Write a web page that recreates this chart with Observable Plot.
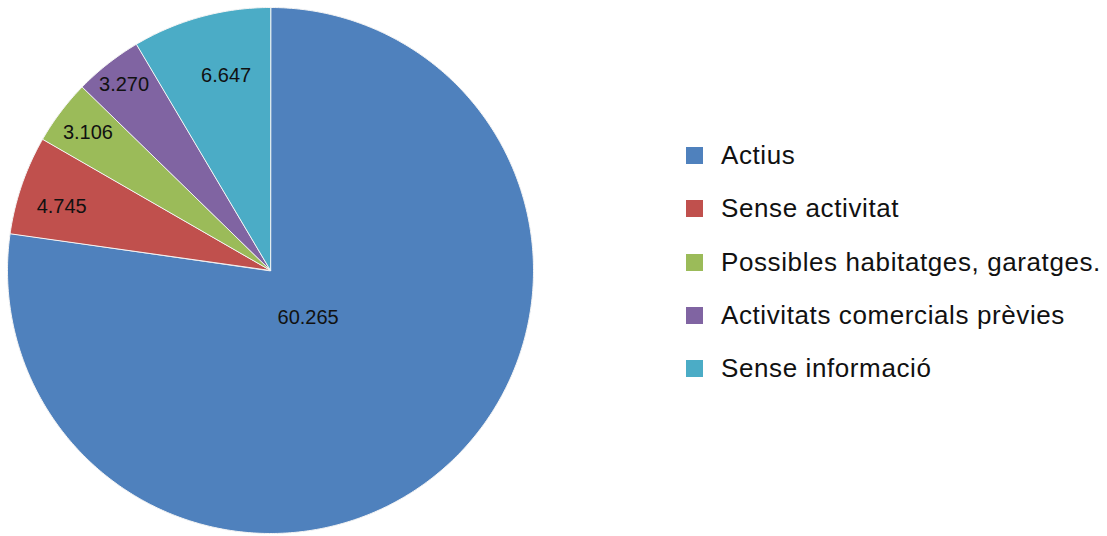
<!DOCTYPE html>
<html><head><meta charset="utf-8">
<script src="https://cdn.jsdelivr.net/npm/d3@7"></script>
<script src="https://cdn.jsdelivr.net/npm/@observablehq/plot@0.6"></script>
<style>
html,body{margin:0;padding:0;background:#fff;}
#wrap{position:relative;width:1107px;height:536px;}
#legend{position:absolute;left:686px;top:129px;font-family:"Liberation Sans",Arial,sans-serif;font-size:26px;letter-spacing:0.6px;color:#111;}
.item{display:flex;align-items:center;height:53.3px;}
.sw{width:17px;height:17px;margin-right:18px;flex:none;}
</style></head>
<body><div id="wrap"><div id="chart"></div><div id="legend"></div></div>
<script>
const categories = ["Actius","Sense activitat","Possibles habitatges, garatges.","Activitats comercials prèvies","Sense informació"];
const values = [60265, 4745, 3106, 3270, 6647];
const labels = ["60.265","4.745","3.106","3.270","6.647"];
const colors = ["#4F81BD","#C0504D","#9BBB59","#8064A2","#4BACC6"];

const total = d3.sum(values);
const labelR = [0.23, 0.83, 0.87, 0.9, 0.76];
const labelShift = [2.5, -2, 0, 0, 2.5]; // degrees
const polys = [];
const labelPts = [];
let acc = 0;
values.forEach((v, i) => {
  const a0 = acc / total * 2 * Math.PI;
  acc += v;
  const a1 = acc / total * 2 * Math.PI;
  polys.push({cat: categories[i], x: 0, y: 0, k: -1});
  const n = Math.max(4, Math.ceil((a1 - a0) / 0.01));
  for (let j = 0; j <= n; j++) {
    const a = a0 + (a1 - a0) * j / n;
    polys.push({cat: categories[i], x: Math.sin(a), y: Math.cos(a), k: j});
  }
  const am = (a0 + a1) / 2 + labelShift[i] * Math.PI / 180;
  labelPts.push({text: labels[i], x: labelR[i] * Math.sin(am), y: labelR[i] * Math.cos(am)});
});

const chart = Plot.plot({
  width: 1107, height: 536,
  margin: 0,
  x: {domain: [-1, 1], range: [7, 533], axis: null},
  y: {domain: [-1, 1], range: [533, 7], axis: null},
  color: {domain: categories, range: colors},
  style: {background: "white"},
  marks: [
    Plot.line(polys, {x: "x", y: "y", z: "cat", fill: "cat", stroke: "#f4f4f4", strokeWidth: 1, curve: "linear-closed"}),
    Plot.text(labelPts, {x: "x", y: "y", text: "text", fill: "#111", fontSize: 20, fontFamily: "Liberation Sans, Arial, sans-serif"})
  ]
});
document.getElementById("chart").appendChild(chart);

const lg = document.getElementById("legend");
categories.forEach((c, i) => {
  const d = document.createElement("div");
  d.className = "item";
  d.innerHTML = `<span class="sw" style="background:${colors[i]}"></span><span>${c}</span>`;
  lg.appendChild(d);
});
</script></body></html>
